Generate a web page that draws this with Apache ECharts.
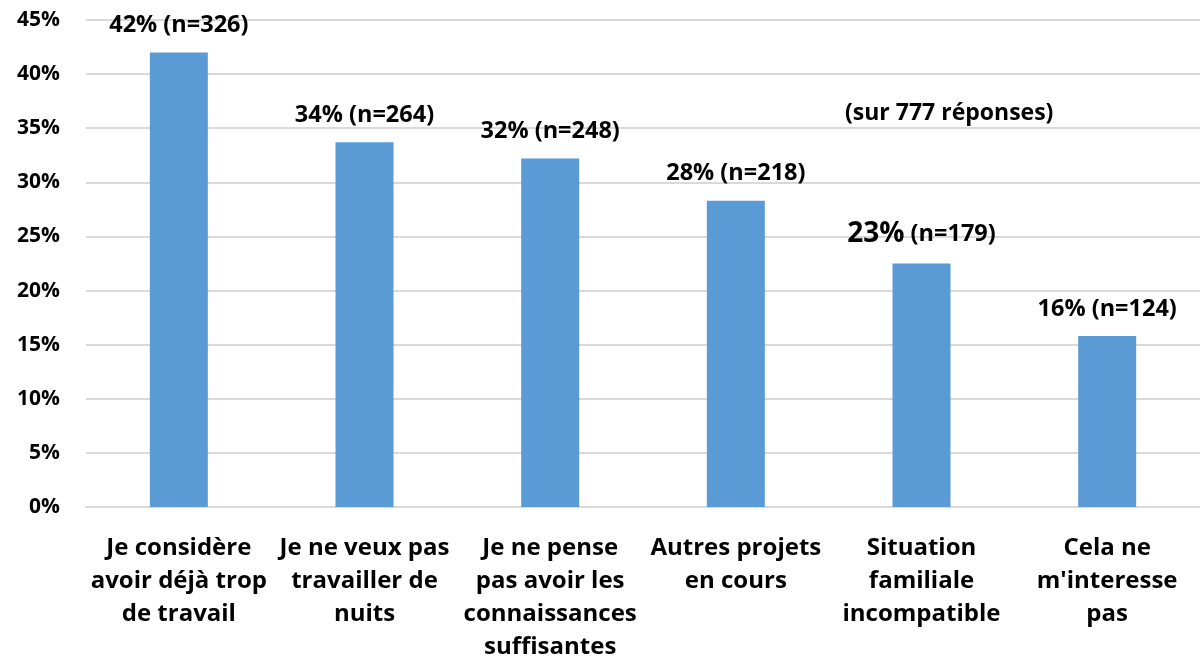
<!DOCTYPE html>
<html>
<head>
<meta charset="utf-8">
<script src="https://cdn.jsdelivr.net/npm/echarts@6/dist/echarts.min.js"></script>
<style>
  html, body { margin: 0; padding: 0; background: #fff; }
  #chart { width: 1200px; height: 664px; }
</style>
</head>
<body>
<div id="chart"></div>
<script>
// catégories (axe x)
const categories = [
  'Je considère\navoir déjà trop\nde travail',
  'Je ne veux pas\ntravailler de\nnuits',
  'Je ne pense\npas avoir les\nconnaissances\nsuffisantes',
  'Autres projets\nen cours',
  'Situation\nfamiliale\nincompatible',
  'Cela ne\nm\'interesse\npas'
]
// pourcentages
const percents = [42.0, 33.7, 32.2, 28.3, 22.5, 15.8]
const pctLabels = ['42%', '34%', '32%', '28%', '23%', '16%']
const counts = [326, 264, 248, 218, 179, 124]

const font = '"Open Sans", sans-serif'

const chart = echarts.init(document.getElementById('chart'))

const option = {
  animation: false,
  textStyle: { fontFamily: font },
  grid: { left: 86, right: 0, top: 20, bottom: 157 },
  xAxis: {
    type: 'category',
    data: categories,
    axisTick: { show: false },
    axisLine: { lineStyle: { color: '#d9d9d9', width: 2 } },
    axisLabel: {
      interval: 0,
      margin: 25,
      color: '#000',
      fontSize: 24,
      fontWeight: 'bold',
      lineHeight: 33,
      fontFamily: font
    }
  },
  yAxis: {
    type: 'value',
    min: 0,
    max: 45,
    interval: 5,
    axisLine: { show: false },
    axisTick: { show: false },
    splitLine: { lineStyle: { color: '#d9d9d9', width: 2 } },
    axisLabel: {
      formatter: '{value}%',
      color: '#000',
      fontSize: 21,
      fontWeight: 'bold',
      margin: 26,
      fontFamily: font
    }
  },
  series: [
    {
      type: 'bar',
      data: percents,
      barWidth: 58,
      itemStyle: { color: '#5b9bd5' },
      label: {
        show: true,
        position: 'top',
        distance: 15,
        color: '#000',
        fontWeight: 'bold',
        fontSize: 23.5,
        fontFamily: font,
        formatter: p => {
          const i = p.dataIndex
          if (i === 4) return '{big|' + pctLabels[i] + '} (n=' + counts[i] + ')'
          return pctLabels[i] + ' (n=' + counts[i] + ')'
        },
        rich: {
          big: { fontSize: 28, fontWeight: 'bold', color: '#000', fontFamily: font }
        }
      }
    }
  ],
  graphic: [
    {
      type: 'text',
      left: 845,
      top: 102,
      style: {
        text: '(sur 777 réponses)',
        fill: '#000',
        font: 'bold 23px ' + font
      }
    }
  ]
}

chart.setOption(option)
</script>
</body>
</html>
